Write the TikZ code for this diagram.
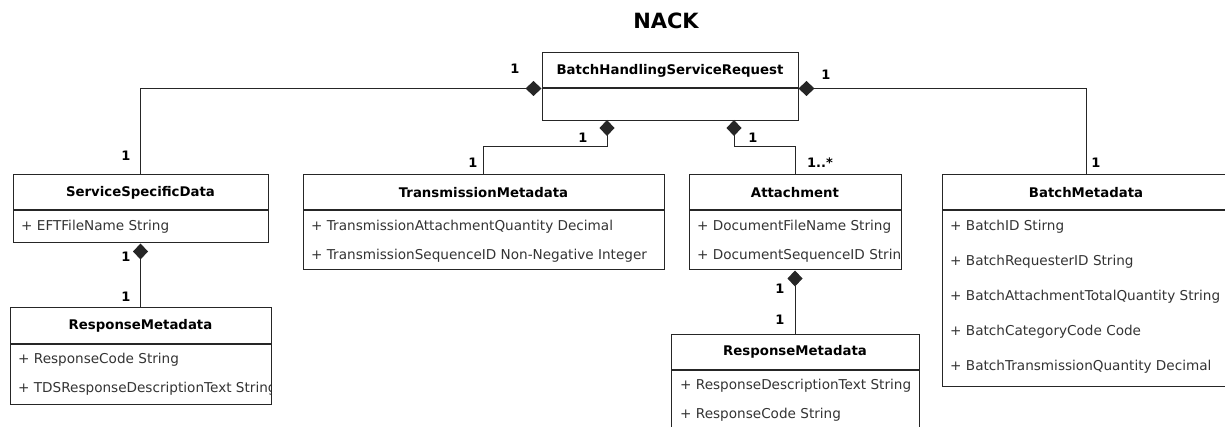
\documentclass[tikz,border=0pt]{standalone}
\usepackage{fontspec}
\setmainfont{DejaVu Sans}
\usetikzlibrary{positioning,arrows.meta}

\begin{document}
\begin{tikzpicture}[
    x=1pt, y=-1pt,
    head/.style={draw=black!85, line width=1pt, minimum height=35pt, inner sep=0pt,
        font=\bfseries\fontsize{13.3}{15}\selectfont},
    body/.style={draw=black!85, line width=1pt, inner sep=0pt},
    attr/.style={anchor=west, inner sep=0pt, text=black!80,
        font=\fontsize{13.6}{15}\selectfont},
    mult/.style={inner sep=0pt, font=\bfseries\fontsize{13}{15}\selectfont},
    compo/.style={draw=black!85, line width=1pt, {Diamond[length=16pt,width=15pt]}-}
]
\clip (0,0) rectangle (1225,427);

\node[font=\bfseries\fontsize{21}{25}\selectfont] (title) at (666,21) {NACK};

% classes
\node[head, minimum width=256pt] (req) at (670,70.5) {BatchHandlingServiceRequest};
\node[body, minimum width=256pt, minimum height=32pt, below=0pt of req] (reqB) {};

\node[head, minimum width=255pt] (ssd) at (140.5,192.5) {ServiceSpecificData};
\node[body, minimum width=255pt, minimum height=32pt, below=0pt of ssd] (ssdB) {};

\node[head, minimum width=361pt] (tm) at (483.5,192.5) {TransmissionMetadata};
\node[body, minimum width=361pt, minimum height=59pt, below=0pt of tm] (tmB) {};

\node[head, minimum width=212pt] (att) at (795,192.5) {Attachment};
\node[body, minimum width=212pt, minimum height=59pt, below=0pt of att] (attB) {};

\node[head, minimum width=288pt] (bmeta) at (1086,192.5) {BatchMetadata};
\node[body, minimum width=288pt, minimum height=175pt, below=0pt of bmeta] (bmetaB) {};

\node[head, minimum width=261pt] (resp1) at (140.5,325.5) {ResponseMetadata};
\node[body, minimum width=261pt, minimum height=60pt, below=0pt of resp1] (resp1B) {};

\node[head, minimum width=248pt] (resp2) at (795,351.5) {ResponseMetadata};
\node[body, minimum width=248pt, minimum height=80pt, below=0pt of resp2] (resp2B) {};

% attributes
\node[attr] (ssd1) at (21,227) {+ EFTFileName String};

\node[attr] (tm1) at (311,227) {+ TransmissionAttachmentQuantity Decimal};
\node[attr] (tm2) at (311,256) {+ TransmissionSequenceID Non-Negative Integer};

\begin{scope}
\clip (attB.north west) rectangle (attB.south east);
\node[attr] (att1) at (697,227) {+ DocumentFileName String};
\node[attr] (att2) at (697,256) {+ DocumentSequenceID String};
\end{scope}

\node[attr] (bm1) at (950,227) {+ BatchID Stirng};
\node[attr] (bm2) at (950,262) {+ BatchRequesterID String};
\node[attr] (bm3) at (950,297) {+ BatchAttachmentTotalQuantity String};
\node[attr] (bm4) at (950,332) {+ BatchCategoryCode Code};
\node[attr] (bm5) at (950,367) {+ BatchTransmissionQuantity Decimal};

\begin{scope}
\clip (resp1B.north west) rectangle ([xshift=-1.5pt]resp1B.south east);
\node[attr] (rs1) at (18,360) {+ ResponseCode String};
\node[attr] (rs2) at (18,389) {+ TDSResponseDescriptionText String};
\end{scope}

\node[attr] (rt1) at (680,386) {+ ResponseDescriptionText String};
\node[attr] (rt2) at (680,415) {+ ResponseCode String};

% compositions
\coordinate (tmJoin) at (607,120);
\coordinate (attJoin) at (734,120);

\draw[compo] (req.south west) -| (ssd.north);
\draw[compo] (req.south east) -| (bmeta.north);
\draw[compo] (tmJoin) -- ++(0,27) -| (tm.north);
\draw[compo] (attJoin) -- ++(0,27) -| (att.north);
\draw[compo] (ssdB.south) -- (resp1.north);
\draw[compo] (attB.south) -- (resp2.north);

% multiplicities
\node[mult] (m1) at (515,69) {1};
\node[mult] (m2) at (126,156) {1};
\node[mult] (m3) at (826,75) {1};
\node[mult] (m4) at (1096,163) {1};
\node[mult] (m5) at (583,138) {1};
\node[mult] (m6) at (473,163) {1};
\node[mult] (m7) at (753,138) {1};
\node[mult] (m8) at (820,163) {1..*};
\node[mult] (m9) at (126,257) {1};
\node[mult] (m10) at (126,297) {1};
\node[mult] (m11) at (780,289) {1};
\node[mult] (m12) at (780,320) {1};

\end{tikzpicture}
\end{document}
